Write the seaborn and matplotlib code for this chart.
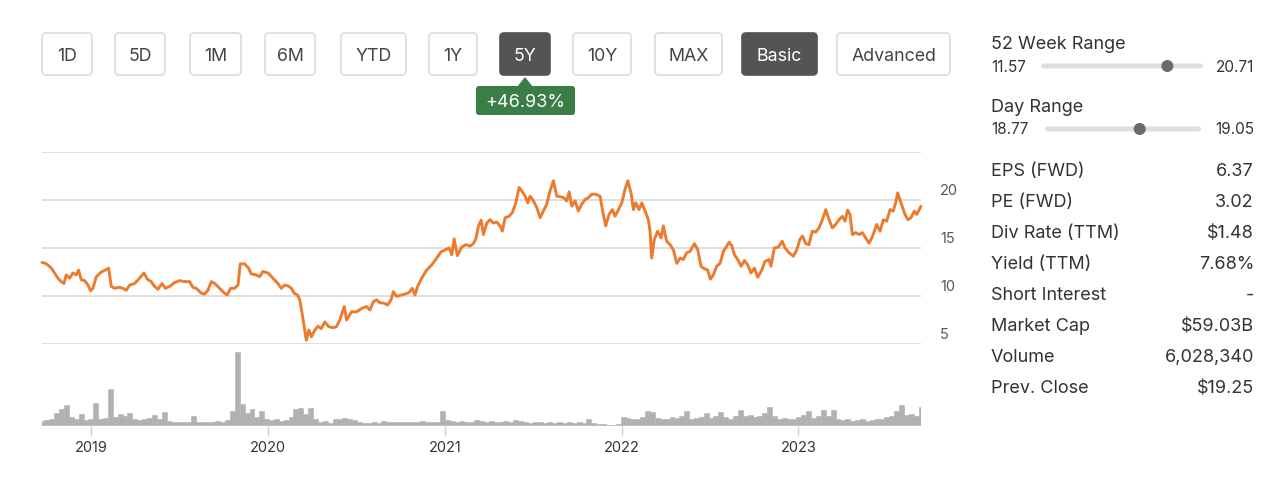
import numpy as np
import pandas as pd
import matplotlib
matplotlib.use("Agg")
import matplotlib.pyplot as plt
import matplotlib.transforms as mtransforms
from matplotlib.patches import FancyBboxPatch, Circle, Polygon
import seaborn as sns

# ---------------- data ----------------
price_time = [
    2018.723, 2018.747, 2018.776, 2018.794, 2018.813, 2018.832, 2018.847, 2018.860, 2018.879, 2018.898,
    2018.917, 2018.930, 2018.945, 2018.964, 2018.983, 2018.998, 2019.011, 2019.030, 2019.058, 2019.077,
    2019.100, 2019.115, 2019.134, 2019.162, 2019.181, 2019.200, 2019.219, 2019.247, 2019.275, 2019.300,
    2019.319, 2019.341, 2019.360, 2019.379, 2019.402, 2019.421, 2019.445, 2019.473, 2019.502, 2019.530,
    2019.558, 2019.577, 2019.596, 2019.624, 2019.643, 2019.662, 2019.681, 2019.700, 2019.728, 2019.752,
    2019.771, 2019.790, 2019.813, 2019.832, 2019.845, 2019.869, 2019.892, 2019.907, 2019.935, 2019.954,
    2019.973, 2020.002, 2020.030, 2020.058, 2020.077, 2020.096, 2020.115, 2020.134, 2020.149, 2020.168,
    2020.181, 2020.194, 2020.209, 2020.218, 2020.232, 2020.247, 2020.266, 2020.284, 2020.303, 2020.322,
    2020.345, 2020.369, 2020.388, 2020.407, 2020.432, 2020.445, 2020.473, 2020.501, 2020.530, 2020.558,
    2020.577, 2020.596, 2020.614, 2020.633, 2020.658, 2020.677, 2020.696, 2020.709, 2020.728, 2020.752,
    2020.775, 2020.797, 2020.816, 2020.831, 2020.846, 2020.869, 2020.897, 2020.926, 2020.954, 2020.978,
    2021.001, 2021.024, 2021.039, 2021.052, 2021.071, 2021.095, 2021.118, 2021.143, 2021.161, 2021.175,
    2021.190, 2021.205, 2021.218, 2021.237, 2021.256, 2021.274, 2021.293, 2021.312, 2021.325, 2021.341,
    2021.363, 2021.382, 2021.401, 2021.420, 2021.435, 2021.454, 2021.469, 2021.482, 2021.501, 2021.520,
    2021.539, 2021.557, 2021.576, 2021.595, 2021.614, 2021.633, 2021.652, 2021.671, 2021.689, 2021.703,
    2021.718, 2021.737, 2021.755, 2021.774, 2021.793, 2021.812, 2021.831, 2021.853, 2021.878, 2021.891,
    2021.910, 2021.929, 2021.948, 2021.963, 2021.982, 2022.001, 2022.019, 2022.035, 2022.053, 2022.067,
    2022.080, 2022.099, 2022.114, 2022.133, 2022.151, 2022.161, 2022.170, 2022.185, 2022.204, 2022.223,
    2022.236, 2022.255, 2022.274, 2022.293, 2022.312, 2022.331, 2022.349, 2022.368, 2022.387, 2022.412,
    2022.431, 2022.449, 2022.463, 2022.487, 2022.502, 2022.519, 2022.538, 2022.557, 2022.576, 2022.595,
    2022.608, 2022.623, 2022.638, 2022.657, 2022.676, 2022.695, 2022.713, 2022.732, 2022.751, 2022.770,
    2022.793, 2022.811, 2022.834, 2022.845, 2022.864, 2022.887, 2022.909, 2022.925, 2022.947, 2022.972,
    2022.991, 2023.009, 2023.023, 2023.042, 2023.060, 2023.079, 2023.098, 2023.117, 2023.136, 2023.155,
    2023.174, 2023.192, 2023.211, 2023.230, 2023.249, 2023.264, 2023.279, 2023.292, 2023.306, 2023.324,
    2023.343, 2023.362, 2023.381, 2023.400, 2023.419, 2023.443, 2023.462, 2023.481, 2023.500, 2023.519,
    2023.537, 2023.551, 2023.562, 2023.581, 2023.600, 2023.619, 2023.637, 2023.656, 2023.670, 2023.694,
]
price_value = [
    13.50, 13.36, 12.90, 12.40, 11.85, 11.50, 11.30, 12.20, 11.85, 12.40,
    12.20, 12.70, 11.70, 11.60, 11.15, 10.55, 10.80, 12.00, 12.50, 12.65,
    12.90, 11.00, 10.80, 10.90, 10.80, 10.60, 11.15, 11.30, 11.85, 12.40,
    11.75, 11.50, 11.00, 10.70, 11.30, 10.80, 11.00, 11.40, 11.60, 11.50,
    11.50, 10.90, 10.80, 10.30, 10.20, 10.60, 11.50, 11.30, 10.80, 10.35,
    10.10, 10.80, 10.80, 11.15, 13.35, 13.35, 12.90, 12.30, 12.20, 12.00,
    12.55, 12.40, 11.85, 11.30, 10.80, 11.15, 11.05, 10.80, 10.30, 10.10,
    9.60, 8.20, 6.45, 5.40, 6.45, 5.75, 6.45, 6.85, 6.60, 7.30,
    6.80, 6.70, 6.80, 7.50, 8.90, 7.50, 8.35, 8.35, 8.70, 8.90,
    8.55, 9.40, 9.60, 9.30, 9.25, 9.05, 9.60, 10.45, 9.95, 10.10,
    10.20, 10.35, 10.80, 10.10, 11.00, 11.85, 12.70, 13.25, 13.95, 14.60,
    14.80, 15.00, 14.30, 15.95, 14.20, 15.10, 15.35, 15.20, 15.45, 15.95,
    17.30, 17.90, 16.40, 17.60, 17.95, 17.60, 17.70, 17.30, 16.75, 18.15,
    18.30, 18.70, 19.70, 21.30, 20.95, 20.40, 19.70, 20.40, 19.90, 19.20,
    18.15, 18.85, 19.55, 20.95, 22.00, 20.40, 20.35, 20.25, 19.90, 20.85,
    19.35, 19.90, 18.85, 19.55, 20.05, 20.25, 20.60, 20.60, 20.40, 19.00,
    17.30, 18.50, 19.00, 18.30, 19.00, 19.70, 21.10, 22.00, 20.75, 19.00,
    19.70, 19.00, 19.70, 18.85, 17.95, 16.75, 13.95, 15.90, 16.75, 16.05,
    17.30, 15.70, 15.35, 14.80, 13.40, 13.95, 13.80, 14.50, 14.65, 15.45,
    14.80, 13.10, 12.90, 12.70, 11.75, 12.20, 13.10, 13.40, 14.65, 15.20,
    15.60, 15.25, 14.30, 13.80, 13.10, 13.70, 13.25, 12.40, 12.90, 11.95,
    12.70, 13.60, 13.80, 13.10, 15.00, 15.10, 15.70, 15.00, 14.50, 14.15,
    14.80, 15.90, 16.25, 15.45, 15.35, 16.75, 16.65, 17.10, 17.95, 19.00,
    17.95, 17.10, 17.45, 17.95, 18.30, 17.80, 18.95, 18.50, 16.40, 16.60,
    16.40, 16.60, 16.05, 15.50, 16.20, 17.45, 16.75, 17.95, 17.80, 19.00,
    18.85, 19.70, 20.75, 19.70, 18.65, 17.95, 18.15, 18.85, 18.50, 19.35,
]
volume_value = [
    7, 8, 9, 18, 23, 28, 12, 10, 16, 8,
    9, 31, 10, 11, 50, 12, 16, 14, 17, 9,
    8, 9, 11, 15, 9, 19, 7, 5, 6, 5,
    6, 14, 6, 5, 6, 5, 7, 6, 8, 20,
    100, 30, 18, 23, 12, 20, 10, 8, 9, 7,
    8, 12, 23, 24, 16, 24, 9, 6, 7, 4,
    9, 10, 11, 9, 8, 6, 4, 4, 5, 4,
    7, 5, 6, 5, 6, 5, 6, 5, 7, 5,
    6, 5, 20, 8, 7, 6, 7, 5, 6, 8,
    7, 6, 7, 5, 6, 7, 6, 8, 7, 5,
    4, 5, 6, 4, 5, 4, 6, 4, 5, 4,
    5, 4, 10, 4, 3, 3, 2, 2, 3, 12,
    11, 9, 10, 12, 20, 19, 11, 9, 10, 12,
    11, 13, 20, 10, 11, 12, 18, 11, 14, 19,
    12, 10, 13, 22, 14, 15, 12, 13, 18, 26,
    13, 10, 11, 9, 10, 12, 15, 20, 11, 13,
    22, 14, 21, 10, 8, 9, 7, 8, 9, 7,
    8, 9, 10, 12, 14, 20, 28, 15, 16, 13,
    26,
]
year_ticks = [2019, 2020, 2021, 2022, 2023]
price_ticks = [5, 10, 15, 20, 25]
price_tick_labels = ["5", "10", "15", "20", ""]

buttons = ["1D", "5D", "1M", "6M", "YTD", "1Y", "5Y", "10Y", "MAX", "Basic", "Advanced"]
active_buttons = ["5Y", "Basic"]
change_label = "+46.93%"

range_titles = ["52 Week Range", "Day Range"]
range_low = [11.57, 18.77]
range_high = [20.71, 19.05]
range_current = [18.70, 18.94]

stat_labels = ["EPS (FWD)", "PE (FWD)", "Div Rate (TTM)", "Yield (TTM)",
               "Short Interest", "Market Cap", "Volume", "Prev. Close"]
stat_values = ["6.37", "3.02", "$1.48", "7.68%", "-", "$59.03B", "6,028,340", "$19.25"]


def dec_to_dt(y):
    yi = int(np.floor(y))
    start = pd.Timestamp(year=yi, month=1, day=1)
    end = pd.Timestamp(year=yi + 1, month=1, day=1)
    return start + (end - start) * (y - yi)


# ---------------- styling ----------------
sns.set_theme(style="white")
plt.rcParams["font.family"] = ["Inter", "DejaVu Sans"]

W, H = 1280, 478
fig = plt.figure(figsize=(W / 100, H / 100), dpi=100)
fig.patch.set_facecolor("white")

def frac_box(x0, y0, x1, y1):
    return [x0 / W, 1 - y1 / H, (x1 - x0) / W, (y1 - y0) / H]

# price axes
ax = fig.add_axes(frac_box(42, 152, 921, 344))
df = pd.DataFrame({"date": [dec_to_dt(t) for t in price_time], "price": price_value})
sns.lineplot(data=df, x="date", y="price", ax=ax, color="#EC7B2F", linewidth=2.1,
             clip_on=False, zorder=3)
xmin, xmax = df["date"].iloc[0], df["date"].iloc[-1]
ax.set_xlim(xmin, xmax)
ax.set_ylim(5, 25)
ax.set_yticks(price_ticks)
ax.set_yticklabels([])
ax.set_xticks([])
ax.set_xlabel("")
ax.set_ylabel("")
ax.grid(axis="y", color="#d9d9d9", linewidth=1.2)
ax.tick_params(axis="y", length=0)
for s in ax.spines.values():
    s.set_visible(False)
lab_tr = mtransforms.blended_transform_factory(ax.transAxes, ax.transData) + \
    mtransforms.ScaledTranslation(19 / 100, 9 / 100, fig.dpi_scale_trans)
for v, lab in zip(price_ticks, price_tick_labels):
    ax.text(1.0, v, lab, transform=lab_tr, ha="left", va="center",
            fontsize=10.5, color="#555555")

# volume axes
axv = fig.add_axes(frac_box(42, 352, 921, 426))
vol_dates = pd.date_range(xmin, xmax, periods=len(volume_value))
bar_w = (xmax - xmin).total_seconds() / 86400 / (len(volume_value) - 1)
axv.bar(vol_dates, volume_value, width=bar_w, color="#b1b1b1", edgecolor="#b1b1b1",
        linewidth=0.4, align="center")
axv.set_xlim(xmin, xmax)
axv.set_ylim(0, 100)
axv.axhline(0, color="#c4c4c4", linewidth=1.2)
axv.set_yticks([])
axv.set_xticks([pd.Timestamp(year=y, month=1, day=1) for y in year_ticks])
axv.set_xticklabels([str(y) for y in year_ticks])
axv.tick_params(axis="x", length=7, width=1, color="#d0d0d0", labelsize=10.5,
                labelcolor="#333333", pad=4, bottom=True)
for s in axv.spines.values():
    s.set_visible(False)

# ---------------- overlay (buttons + stats panel) ----------------
ov = fig.add_axes([0, 0, 1, 1], zorder=10)
ov.set_xlim(0, W)
ov.set_ylim(H, 0)
ov.axis("off")
ov.patch.set_alpha(0)

btn_x = [(42, 92), (115, 165), (190, 241), (265, 315), (341, 406), (429, 477),
         (500, 550), (573, 631), (655, 722), (742, 817), (837, 950)]
for (x0, x1), name in zip(btn_x, buttons):
    act = name in active_buttons
    box = FancyBboxPatch((x0, 33), x1 - x0, 42, boxstyle="round,pad=0,rounding_size=4",
                         facecolor="#545454" if act else "white",
                         edgecolor="#545454" if act else "#dcdcdc", linewidth=1.2)
    ov.add_patch(box)
    ov.text((x0 + x1) / 2, 56, name, ha="center", va="center", fontsize=12.8,
            color="white" if act else "#444444")

# change tooltip
green = "#3B7D47"
ov.add_patch(FancyBboxPatch((476, 86), 99, 29, boxstyle="round,pad=0,rounding_size=3",
                            facecolor=green, edgecolor="none"))
ov.add_patch(Polygon([(517, 87), (525, 77), (533, 87)], closed=True, facecolor=green,
                     edgecolor="none"))
ov.text(525.5, 102, change_label, ha="center", va="center", fontsize=13, color="white")

# range sliders
rng_y = [(44, 67, 1041, 1203), (107, 130, 1045, 1201)]
for (ty, sy, tx0, tx1), title, lo, hi, cur in zip(rng_y, range_titles, range_low,
                                                   range_high, range_current):
    ov.text(991, ty, title, ha="left", va="center", fontsize=13, color="#333333")
    ov.text(991, sy, f"{lo:.2f}", ha="left", va="center", fontsize=11, color="#333333")
    ov.text(1254, sy, f"{hi:.2f}", ha="right", va="center", fontsize=11, color="#333333")
    ov.add_patch(FancyBboxPatch((tx0, sy - 3.5), tx1 - tx0, 5,
                                boxstyle="round,pad=0,rounding_size=2.5",
                                facecolor="#dedede", edgecolor="none"))
    cx = tx0 + (cur - lo) / (hi - lo) * (tx1 - tx0)
    ov.add_patch(Circle((cx, sy - 1), 6, facecolor="#6a6a6a", edgecolor="none"))

for i, (lab, val) in enumerate(zip(stat_labels, stat_values)):
    y = 171.5 + i * 31
    ov.text(991, y, lab, ha="left", va="center", fontsize=13, color="#333333")
    ov.text(1254, y, val, ha="right", va="center", fontsize=13, color="#333333")

fig.savefig("out.png", dpi=100, facecolor="white")
